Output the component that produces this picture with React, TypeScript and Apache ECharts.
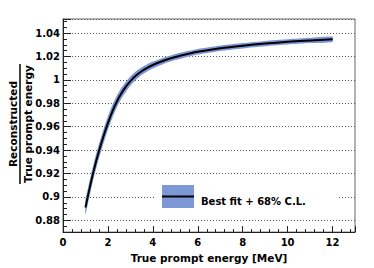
import React, { useEffect, useRef } from "react";
import * as echarts from "echarts";

// True prompt energy [MeV]
const energies = [1.0, 1.1, 1.25, 1.4, 1.6, 1.8, 2.0, 2.2, 2.4, 2.6, 2.8, 3.0, 3.25, 3.5, 3.75, 4.0, 4.5, 5.0, 5.5, 6.0, 7.0, 8.0, 9.0, 10.0, 11.0, 12.0];
// Best fit of Reconstructed / True prompt energy
const bestFit = [0.891, 0.9, 0.913, 0.925, 0.939, 0.9516, 0.963, 0.9732, 0.9816, 0.9885, 0.9942, 0.9989, 1.0037, 1.0074, 1.0103, 1.0127, 1.0165, 1.0195, 1.0219, 1.024, 1.027, 1.0292, 1.031, 1.0325, 1.0337, 1.0347];
// 68% C.L. band edges
const bandLow = [0.8845, 0.8935, 0.9066, 0.9187, 0.9328, 0.9455, 0.9571, 0.9677, 0.9765, 0.9838, 0.9899, 0.995, 1.0001, 1.0041, 1.0072, 1.0098, 1.0138, 1.0169, 1.0194, 1.0216, 1.0247, 1.0269, 1.0287, 1.0302, 1.0314, 1.0324];
const bandHigh = [0.8975, 0.9065, 0.9194, 0.9313, 0.9452, 0.9577, 0.9689, 0.9787, 0.9867, 0.9932, 0.9985, 1.0028, 1.0073, 1.0107, 1.0134, 1.0156, 1.0192, 1.0221, 1.0244, 1.0264, 1.0293, 1.0315, 1.0333, 1.0348, 1.036, 1.037];

const xTitle = "True prompt energy [MeV]";
const yTitleTop = "Reconstructed";
const yTitleBottom = "True prompt energy";
const legendLabel = "Best fit + 68% C.L.";

const FONT = "DejaVu Sans";
const BAND = "#7d98d6";

export default function App() {
  const ref = useRef<HTMLDivElement>(null);
  useEffect(() => {
    if (!ref.current) return;
    const chart = echarts.init(ref.current, null, { renderer: "svg" });
    const bandData = energies.map((x, i) => [x, bandLow[i], bandHigh[i]]);
    const option: any = {
      animation: false,
      backgroundColor: "#fff",
      grid: { left: 63, right: 19, top: 19, bottom: 35, show: true, borderColor: "#666", borderWidth: 1 },
      xAxis: {
        type: "value",
        min: 0,
        max: 13,
        interval: 2,
        name: xTitle,
        nameLocation: "middle",
        nameGap: 15,
        nameTextStyle: { fontFamily: FONT, fontWeight: "bold", fontSize: 10.5, color: "#000" },
        axisLine: { show: true, lineStyle: { color: "#222", width: 1 } },
        axisTick: { show: true, inside: true, length: 6, lineStyle: { color: "#222" } },
        minorTick: { show: true, splitNumber: 5, length: 3, lineStyle: { color: "#222" } },
        axisLabel: {
          fontFamily: FONT, fontWeight: "bold", fontSize: 10, color: "#000", margin: 5,
          formatter: (v: number) => (Math.abs(v / 2 - Math.round(v / 2)) < 1e-6 ? String(v) : ""),
        },
        splitLine: { show: false },
      },
      yAxis: {
        type: "value",
        min: 0.87,
        max: 1.052,
        minInterval: 0.02,
        maxInterval: 0.02,
        axisLine: { show: true, lineStyle: { color: "#222", width: 1 } },
        axisTick: { show: true, inside: true, length: 8, lineStyle: { color: "#222" } },
        minorTick: { show: true, splitNumber: 4, length: 4, lineStyle: { color: "#222" } },
        axisLabel: {
          fontFamily: FONT, fontWeight: "bold", fontSize: 10, color: "#000", margin: 3,
          formatter: (v: number) => {
            const k = Math.round(v * 1000);
            if (Math.abs(v * 1000 - k) > 1e-4 || k % 20 !== 0) return "";
            return String(+v.toFixed(2));
          },
        },
        splitLine: { show: true, lineStyle: { color: "#555", type: [1, 2], width: 1 } },
      },
      series: [
        {
          type: "custom",
          data: bandData,
          encode: { x: 0, y: [1, 2] },
          z: 2,
          renderItem: (params: any, api: any) => {
            if (params.dataIndex !== 0) return null;
            const upper = bandData.map((d) => api.coord([d[0], d[2]]));
            const lower = bandData.map((d) => api.coord([d[0], d[1]])).reverse();
            return {
              type: "polygon",
              shape: { points: upper.concat(lower), smooth: 0.2 },
              style: { fill: BAND, stroke: null },
            };
          },
        },
        {
          type: "line",
          data: energies.map((x, i) => [x, bestFit[i]]),
          smooth: 0.3,
          symbol: "none",
          z: 3,
          lineStyle: { color: "#000", width: 2 },
        },
      ],
      graphic: [
        { type: "rect", z: 10, shape: { x: 156, y: 178, width: 182, height: 38 }, style: { fill: "#fff" } },
        { type: "rect", z: 11, shape: { x: 162, y: 185, width: 32, height: 23 }, style: { fill: BAND } },
        { type: "line", z: 12, shape: { x1: 162, y1: 196.5, x2: 194, y2: 196.5 }, style: { stroke: "#000", lineWidth: 2 } },
        {
          type: "text", z: 12, x: 201, y: 201,
          style: { text: legendLabel, fontFamily: FONT, fontWeight: "bold", fontSize: 10, fill: "#000", verticalAlign: "middle", align: "left" },
        },
        {
          type: "text", z: 12, x: 13, y: 124, rotation: Math.PI / 2,
          style: { text: yTitleTop, fontFamily: FONT, fontWeight: "bold", fontSize: 10.5, fill: "#000", align: "center", verticalAlign: "middle" },
        },
        { type: "line", z: 12, shape: { x1: 20, y1: 64, x2: 20, y2: 184 }, style: { stroke: "#000", lineWidth: 1.5 } },
        {
          type: "text", z: 12, x: 27.5, y: 124, rotation: Math.PI / 2,
          style: { text: yTitleBottom, fontFamily: FONT, fontWeight: "bold", fontSize: 10.5, fill: "#000", align: "center", verticalAlign: "middle" },
        },
      ],
    };
    chart.setOption(option);
    return () => chart.dispose();
  }, []);
  return <div ref={ref} style={{ position: "fixed", left: 0, top: 0, width: 374, height: 268 }} />;
}
